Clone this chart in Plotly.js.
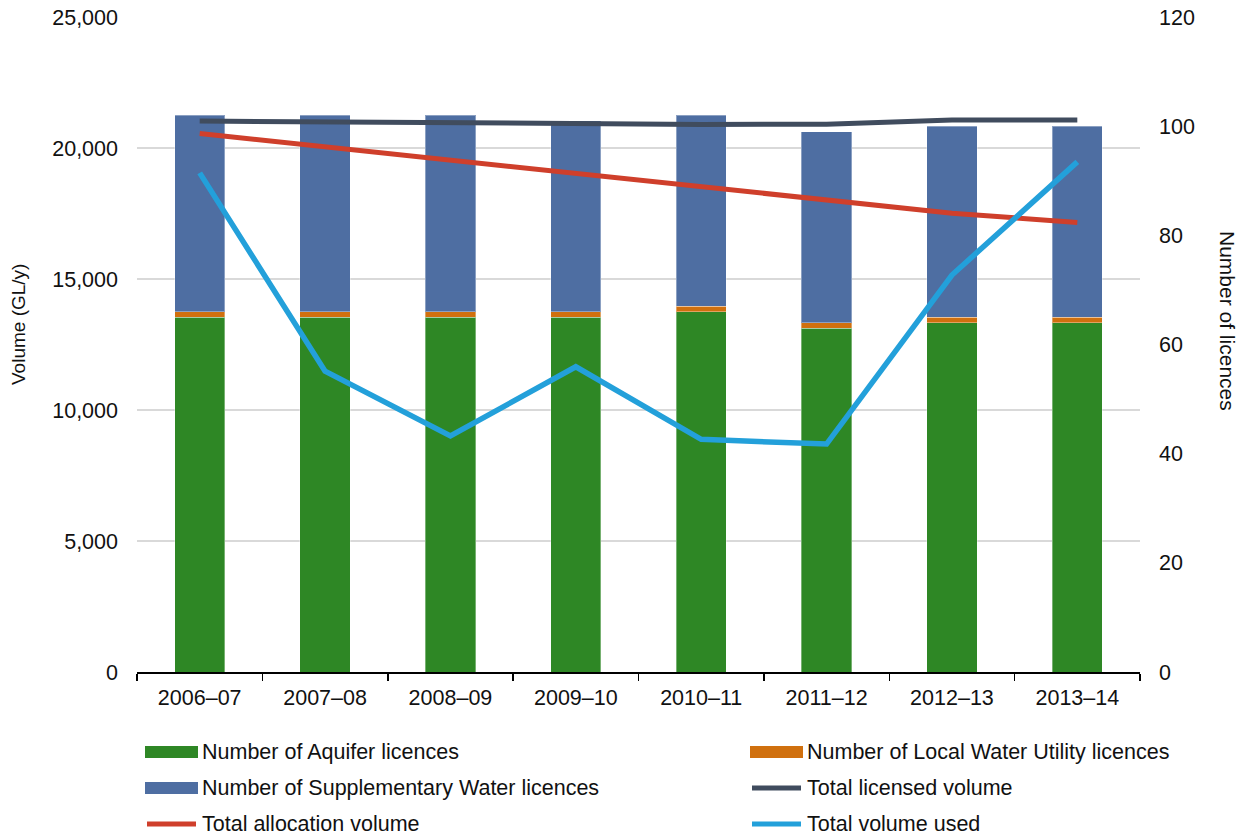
<!DOCTYPE html>
<html>
<head>
<meta charset="utf-8">
<script src="https://cdn.plot.ly/plotly-3.0.1.min.js"></script>
<style>
  html, body { margin: 0; padding: 0; background: #ffffff; }
  #chart { width: 1247px; height: 836px; }
</style>
</head>
<body>
<div id="chart"></div>
<script>
// Financial years on the category axis
const years = ['2006–07', '2007–08', '2008–09', '2009–10', '2010–11', '2011–12', '2012–13', '2013–14'];

// Licence counts (right axis)
const aquiferLicences = [65, 65, 65, 65, 66, 63, 64, 64];
const localWaterUtilityLicences = [1, 1, 1, 1, 1, 1, 1, 1];
const supplementaryWaterLicences = [36, 36, 36, 35, 35, 35, 35, 35];

// Volumes in GL/y (left axis)
const totalLicensedVolume = [21030, 20990, 20980, 20910, 20900, 20910, 21070, 21070];
const totalAllocationVolume = [20550, 20040, 19530, 19030, 18500, 17990, 17510, 17160];
const totalVolumeUsed = [19050, 11480, 9010, 11650, 8880, 8700, 15150, 19470];

const seriesNames = [
  'Number of Aquifer licences',
  'Number of Local Water Utility licences',
  'Number of Supplementary Water licences',
  'Total licensed volume',
  'Total allocation volume',
  'Total volume used'
];

const colors = {
  aquifer: '#2e8725',
  utility: '#d0700e',
  supplementary: '#4e6ea2',
  licensed: '#404c5e',
  allocation: '#cf3f2b',
  used: '#23a0da'
};

const FONT = 'Liberation Sans, Arial, sans-serif';
const TEXT = '#111111';
const TICK_SIZE = 21.5;

const barEdge = { color: 'rgba(255,255,255,0.35)', width: 1 };

const traces = [
  { type: 'bar', name: seriesNames[0], x: years, y: aquiferLicences, yaxis: 'y',
    marker: { color: colors.aquifer, line: barEdge }, width: 0.4 },
  { type: 'bar', name: seriesNames[1], x: years, y: localWaterUtilityLicences, yaxis: 'y',
    marker: { color: colors.utility, line: barEdge }, width: 0.4 },
  { type: 'bar', name: seriesNames[2], x: years, y: supplementaryWaterLicences, yaxis: 'y',
    marker: { color: colors.supplementary, line: barEdge }, width: 0.4 },
  { type: 'scatter', mode: 'lines', name: seriesNames[3], x: years, y: totalLicensedVolume, yaxis: 'y2',
    line: { color: colors.licensed, width: 5 } },
  { type: 'scatter', mode: 'lines', name: seriesNames[4], x: years, y: totalAllocationVolume, yaxis: 'y2',
    line: { color: colors.allocation, width: 5 } },
  { type: 'scatter', mode: 'lines', name: seriesNames[5], x: years, y: totalVolumeUsed, yaxis: 'y2',
    line: { color: colors.used, width: 5.5 } }
];

// Plot area in pixels, used to place the legend and axis titles in paper space
const W = 1247, H = 836;
const plot = { left: 137, right: 1140, top: 17, bottom: 672 };
const px = v => (v - plot.left) / (plot.right - plot.left);
const py = v => (plot.bottom - v) / (plot.bottom - plot.top);

// Legend: two columns, three rows
const legendItems = [
  { kind: 'bar', color: colors.aquifer },
  { kind: 'bar', color: colors.utility },
  { kind: 'bar', color: colors.supplementary },
  { kind: 'line', color: colors.licensed },
  { kind: 'line', color: colors.allocation },
  { kind: 'line', color: colors.used }
];
const colX = [145, 750];
const rowY = [752, 788, 824];
const shapes = [];
const annotations = [];
legendItems.forEach((item, i) => {
  const x0 = colX[i % 2], x1 = x0 + 53;
  const yc = rowY[Math.floor(i / 2)];
  if (item.kind === 'bar') {
    shapes.push({ type: 'rect', xref: 'paper', yref: 'paper',
      x0: px(x0), x1: px(x1), y0: py(yc + 6), y1: py(yc - 6),
      fillcolor: item.color, line: { width: 0 } });
  } else {
    shapes.push({ type: 'line', xref: 'paper', yref: 'paper',
      x0: px(x0 + 2), x1: px(x1 - 2), y0: py(yc), y1: py(yc),
      line: { color: item.color, width: 5 } });
  }
  annotations.push({ xref: 'paper', yref: 'paper', x: px(x1 + 2), y: py(yc),
    xanchor: 'left', yanchor: 'middle', showarrow: false,
    text: seriesNames[i], font: { family: FONT, size: 21.5, color: TEXT } });
});

// Axis titles
annotations.push({ xref: 'paper', yref: 'paper', x: px(18), y: py(325),
  xanchor: 'center', yanchor: 'middle', showarrow: false, textangle: -90,
  text: 'Volume (GL/y)', font: { family: FONT, size: 19, color: TEXT } });
annotations.push({ xref: 'paper', yref: 'paper', x: px(1228), y: py(321),
  xanchor: 'center', yanchor: 'middle', showarrow: false, textangle: 90,
  text: 'Number of licences', font: { family: FONT, size: 21, color: TEXT } });

const layout = {
  width: W, height: H,
  margin: { l: plot.left, r: W - plot.right, t: plot.top, b: H - plot.bottom, pad: 0 },
  paper_bgcolor: '#ffffff', plot_bgcolor: '#ffffff',
  font: { family: FONT, size: TICK_SIZE, color: TEXT },
  barmode: 'stack',
  showlegend: false,
  xaxis: {
    type: 'category', range: [-0.5, 7.5],
    tickson: 'boundaries', ticks: 'outside', ticklen: 7, tickwidth: 1.5, tickcolor: '#000000',
    showline: true, linecolor: '#000000', linewidth: 1.5,
    showgrid: false, zeroline: false,
    ticklabelstandoff: 6,
    tickfont: { family: FONT, size: TICK_SIZE, color: TEXT }
  },
  yaxis: {
    side: 'right', range: [0, 120], dtick: 20, tick0: 0,
    showgrid: false, zeroline: false, showline: false, ticks: '',
    ticklabelstandoff: 18,
    tickfont: { family: FONT, size: TICK_SIZE, color: TEXT }
  },
  yaxis2: {
    overlaying: 'y', side: 'left', range: [0, 25000], dtick: 5000, tick0: 0,
    tickformat: ',d',
    showgrid: true, gridcolor: '#d9d9d9', gridwidth: 1.5,
    zeroline: false, showline: false, ticks: '',
    ticklabelstandoff: 18,
    tickfont: { family: FONT, size: TICK_SIZE, color: TEXT }
  },
  shapes: shapes,
  annotations: annotations
};

Plotly.newPlot('chart', traces, layout, { displayModeBar: false, staticPlot: true });
</script>
</body>
</html>
